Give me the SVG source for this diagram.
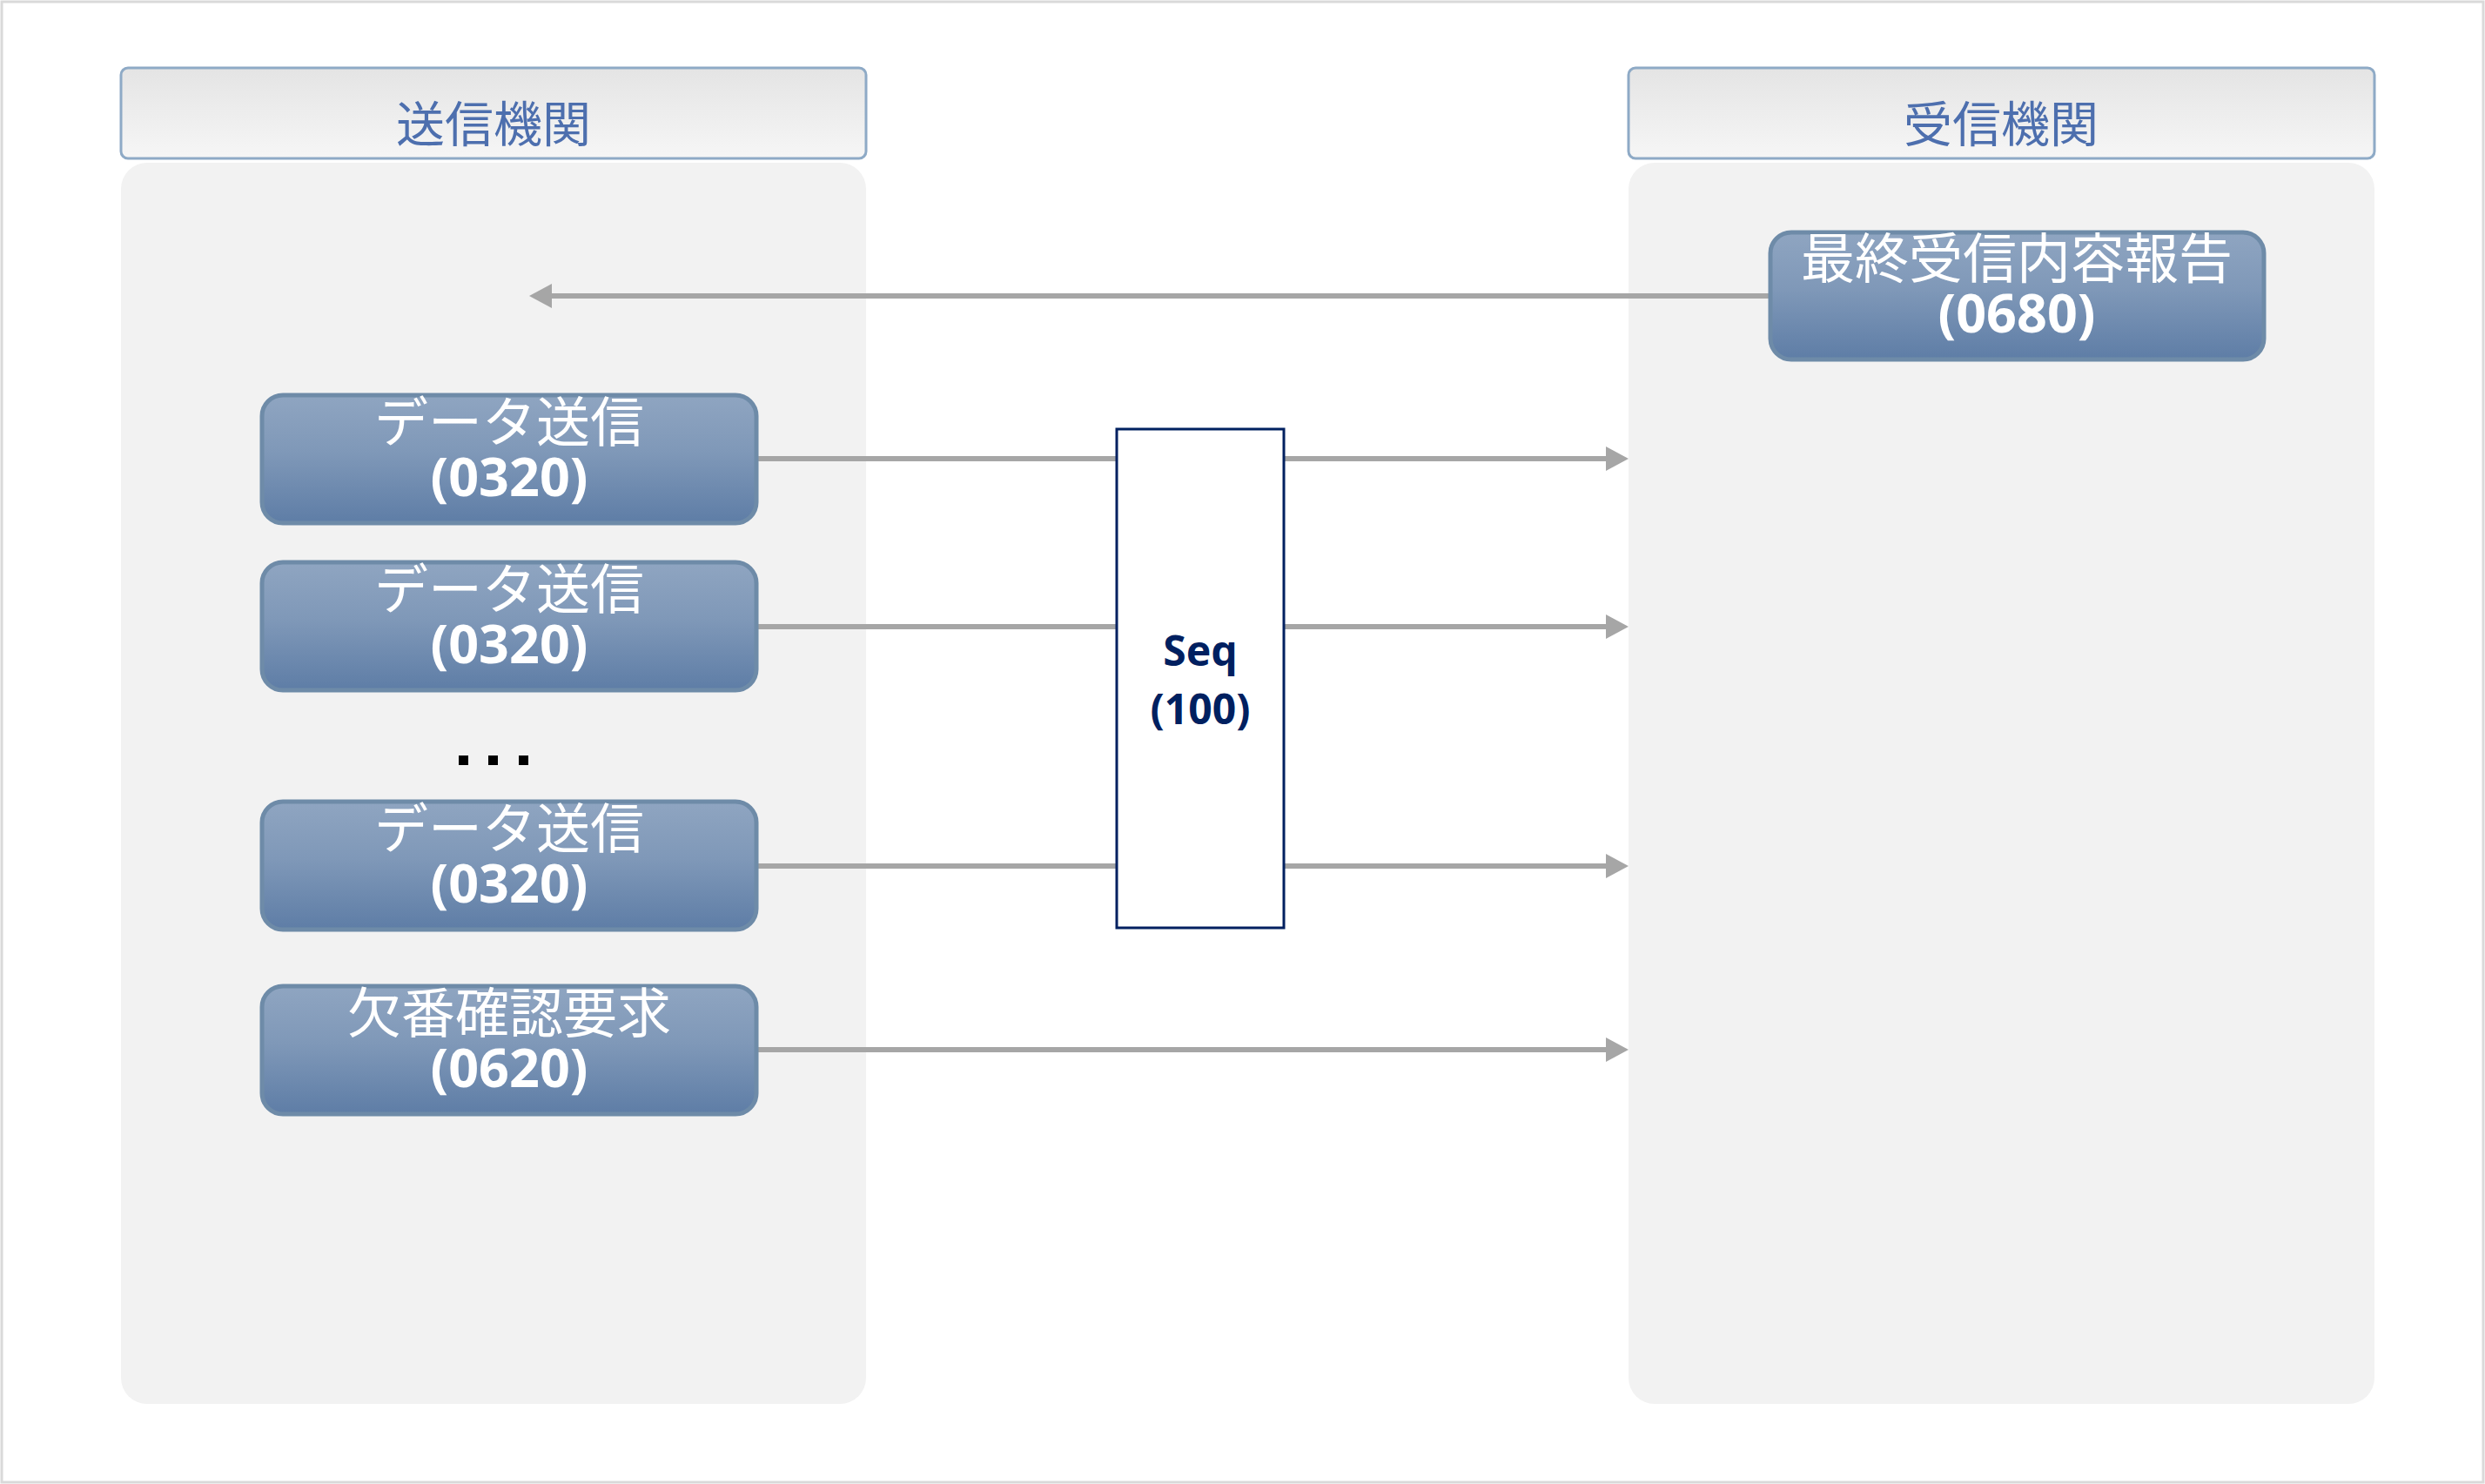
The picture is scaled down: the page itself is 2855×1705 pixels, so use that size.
<svg xmlns="http://www.w3.org/2000/svg" width="2855" height="1705" viewBox="0 0 2855 1705">
<style>
.lane{fill:#f2f2f2}
.hdr{fill:url(#hg);stroke:#8eaac6;stroke-width:3}
.hdrt{font-family:"Noto Sans CJK JP",sans-serif;font-size:56px;fill:#4d6fae;text-anchor:middle}
.node{fill:url(#ng);stroke:#6e8ba8;stroke-width:5}
.jp{font-family:"Noto Sans CJK JP",sans-serif;font-size:62px;fill:#ffffff;text-anchor:middle}
.num{font-family:"Noto Sans","Noto Sans CJK JP",sans-serif;font-weight:bold;font-size:61px;fill:#ffffff;text-anchor:middle}
.conn{stroke:#a6a6a6;stroke-width:6;fill:none;marker-end:url(#ah)}
.seq{fill:#ffffff;stroke:#002060;stroke-width:3}
.seqt{font-family:"Noto Sans",sans-serif;font-weight:bold;font-size:48px;fill:#002060;text-anchor:middle}
</style>
<defs>
<linearGradient id="hg" x1="0" y1="0" x2="0" y2="1">
<stop offset="0" stop-color="#e4e4e4"/>
<stop offset="1" stop-color="#f6f6f6"/>
</linearGradient>
<linearGradient id="ng" x1="0" y1="0" x2="0" y2="1">
<stop offset="0" stop-color="#8fa5c1"/>
<stop offset="0.45" stop-color="#7f98b8"/>
<stop offset="1" stop-color="#5e7da6"/>
</linearGradient>
<marker id="ah" markerUnits="userSpaceOnUse" markerWidth="27" markerHeight="28" refX="0" refY="14" orient="auto">
<path d="M0,0 L26,14 L0,28 Z" fill="#a6a6a6"/>
</marker>
</defs>
<rect x="2" y="2" width="2851" height="1701" fill="#ffffff" stroke="#d9d9d9" stroke-width="3"/>
<g id="lane-sender">
<rect class="lane" x="139" y="187" width="856" height="1426" rx="30" ry="30"/>
<rect class="hdr" x="139" y="78" width="856" height="104" rx="8"/>
<text class="hdrt" x="567" y="163">送信機関</text>
</g>
<g id="lane-receiver">
<rect class="lane" x="1871" y="187" width="857" height="1426" rx="30" ry="30"/>
<rect class="hdr" x="1871" y="78" width="857" height="104" rx="8"/>
<text class="hdrt" x="2299" y="163">受信機関</text>
</g>
<g id="connectors">
<line class="conn" x1="2033" y1="340" x2="634" y2="340"/>
<line class="conn" x1="869" y1="527" x2="1845" y2="527"/>
<line class="conn" x1="869" y1="720" x2="1845" y2="720"/>
<line class="conn" x1="869" y1="995" x2="1845" y2="995"/>
<line class="conn" x1="869" y1="1206" x2="1845" y2="1206"/>
</g>
<g id="seq">
<rect class="seq" x="1283" y="493" width="192" height="573"/>
<text class="seqt" x="1379" y="765">Seq</text>
<text class="seqt" x="1379" y="832">(100)</text>
</g>
<g id="node-recv-0680">
<rect class="node" x="2034" y="267" width="567" height="146" rx="24"/>
<text class="jp" x="2317" y="320">最終受信内容報告</text>
<text class="num" x="2317" y="382">(0680)</text>
</g>
<g id="node-send-1">
<rect class="node" x="301" y="454" width="568" height="147" rx="24"/>
<text class="jp" x="585" y="508">データ送信</text>
<text class="num" x="585" y="570">(0320)</text>
</g>
<g id="node-send-2">
<rect class="node" x="301" y="646" width="568" height="147" rx="24"/>
<text class="jp" x="585" y="700">データ送信</text>
<text class="num" x="585" y="762">(0320)</text>
</g>
<g id="dots">
<rect x="527" y="868" width="11" height="11" fill="#000000"/>
<rect x="561" y="868" width="11" height="11" fill="#000000"/>
<rect x="596" y="868" width="11" height="11" fill="#000000"/>
</g>
<g id="node-send-3">
<rect class="node" x="301" y="921" width="568" height="147" rx="24"/>
<text class="jp" x="585" y="975">データ送信</text>
<text class="num" x="585" y="1037">(0320)</text>
</g>
<g id="node-req-0620">
<rect class="node" x="301" y="1133" width="568" height="147" rx="24"/>
<text class="jp" x="585" y="1187">欠番確認要求</text>
<text class="num" x="585" y="1249">(0620)</text>
</g>
</svg>
